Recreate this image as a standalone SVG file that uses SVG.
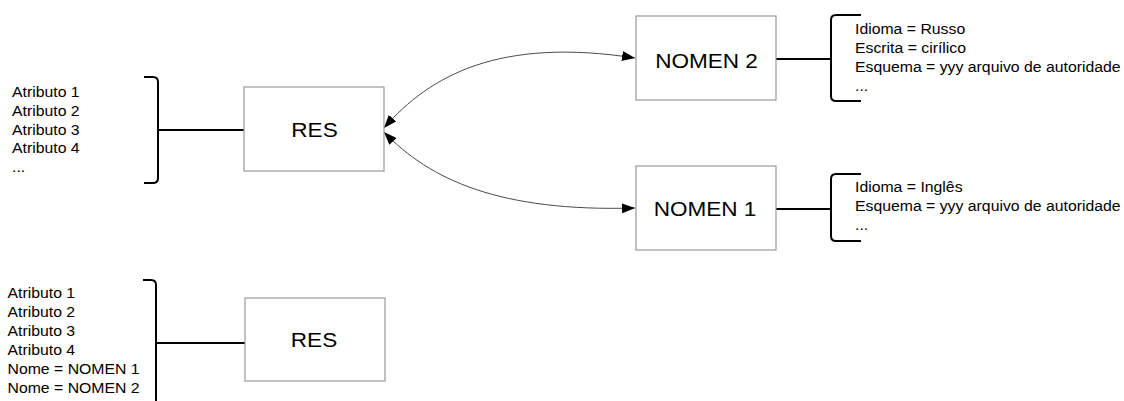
<svg xmlns="http://www.w3.org/2000/svg" width="1124" height="401" viewBox="0 0 1124 401">
  <style>
    .box { fill: #ffffff; stroke: #9a9a9a; stroke-width: 1.2; }
    .label { font-family: "Liberation Sans", Arial, sans-serif; font-size: 20.5px; fill: #000000; text-anchor: middle; }
    .list { font-family: "Liberation Sans", Arial, sans-serif; font-size: 14.5px; fill: #000000; }
    .brace { fill: none; stroke: #000000; stroke-width: 2; }
    .link { fill: none; stroke: #000000; stroke-width: 2; }
    .curve { fill: none; stroke: #4a4a4a; stroke-width: 1; marker-start: url(#arrow); marker-end: url(#arrow); }
  </style>
  <defs>
    <marker id="arrow" viewBox="0 0 13 10" refX="13" refY="5" markerWidth="13" markerHeight="10" markerUnits="userSpaceOnUse" orient="auto-start-reverse">
      <path d="M0,0 L13,5 L0,10 z" fill="#000000"/>
    </marker>
  </defs>

  <rect width="1124" height="401" fill="#ffffff"/>

  <!-- connectors -->
  <g id="connectors">
    <path class="curve" d="M384,128 C430,75 500,37 635,58"/>
    <path class="curve" d="M384,132 C430,180 500,212 635,208"/>
    <line class="link" x1="158" y1="130" x2="244" y2="130"/>
    <line class="link" x1="776" y1="59" x2="830" y2="59"/>
    <line class="link" x1="776" y1="209" x2="830" y2="209"/>
    <line class="link" x1="156" y1="343" x2="245" y2="343"/>
  </g>

  <!-- RES (top) with its attribute list -->
  <g id="res-top">
    <rect class="box" x="244" y="87" width="140" height="84"/>
    <g transform="translate(314.5,0) scale(1.1,1)"><text class="label" x="0" y="137">RES</text></g>
  </g>
  <g id="res-top-attributes">
    <path class="brace" d="M144,77 H153 Q158,77 158,82 V178 Q158,183 153,183 H144"/>
    <g transform="translate(12,0) scale(1.09,1)">
      <text class="list" x="0" y="97.3">Atributo 1</text>
      <text class="list" x="0" y="116">Atributo 2</text>
      <text class="list" x="0" y="134.7">Atributo 3</text>
      <text class="list" x="0" y="153.4">Atributo 4</text>
      <text class="list" x="0" y="172">...</text>
    </g>
  </g>

  <!-- NOMEN 2 -->
  <g id="nomen2">
    <rect class="box" x="636" y="16" width="140" height="84"/>
    <g transform="translate(706.5,0) scale(1.1,1)"><text class="label" x="0" y="68.3">NOMEN 2</text></g>
  </g>
  <g id="nomen2-attributes">
    <path class="brace" d="M861,15 H836 Q831,15 831,20 V96 Q831,101 836,101 H861"/>
    <g transform="translate(855,0) scale(1.09,1)">
      <text class="list" x="0" y="34">Idioma = Russo</text>
      <text class="list" x="0" y="53">Escrita = cirílico</text>
      <text class="list" x="0" y="72">Esquema = yyy arquivo de autoridade</text>
      <text class="list" x="0" y="91">...</text>
    </g>
  </g>

  <!-- NOMEN 1 -->
  <g id="nomen1">
    <rect class="box" x="636" y="166" width="140" height="84"/>
    <g transform="translate(705,0) scale(1.1,1)"><text class="label" x="0" y="215.7">NOMEN 1</text></g>
  </g>
  <g id="nomen1-attributes">
    <path class="brace" d="M861,174 H836 Q831,174 831,179 V236 Q831,241 836,241 H861"/>
    <g transform="translate(855,0) scale(1.09,1)">
      <text class="list" x="0" y="191.7">Idioma = Inglês</text>
      <text class="list" x="0" y="211.3">Esquema = yyy arquivo de autoridade</text>
      <text class="list" x="0" y="230">...</text>
    </g>
  </g>

  <!-- RES (bottom) with names folded into its attributes -->
  <g id="res-bottom">
    <rect class="box" x="245" y="298" width="140" height="83"/>
    <g transform="translate(314,0) scale(1.1,1)"><text class="label" x="0" y="347.3">RES</text></g>
  </g>
  <g id="res-bottom-attributes">
    <path class="brace" d="M143,280 H151 Q156,280 156,285 V405"/>
    <g transform="translate(7.5,0) scale(1.09,1)">
      <text class="list" x="0" y="298.3">Atributo 1</text>
      <text class="list" x="0" y="317.2">Atributo 2</text>
      <text class="list" x="0" y="336">Atributo 3</text>
      <text class="list" x="0" y="355">Atributo 4</text>
      <text class="list" x="0" y="374">Nome = NOMEN 1</text>
      <text class="list" x="0" y="392.7">Nome = NOMEN 2</text>
    </g>
  </g>
</svg>
